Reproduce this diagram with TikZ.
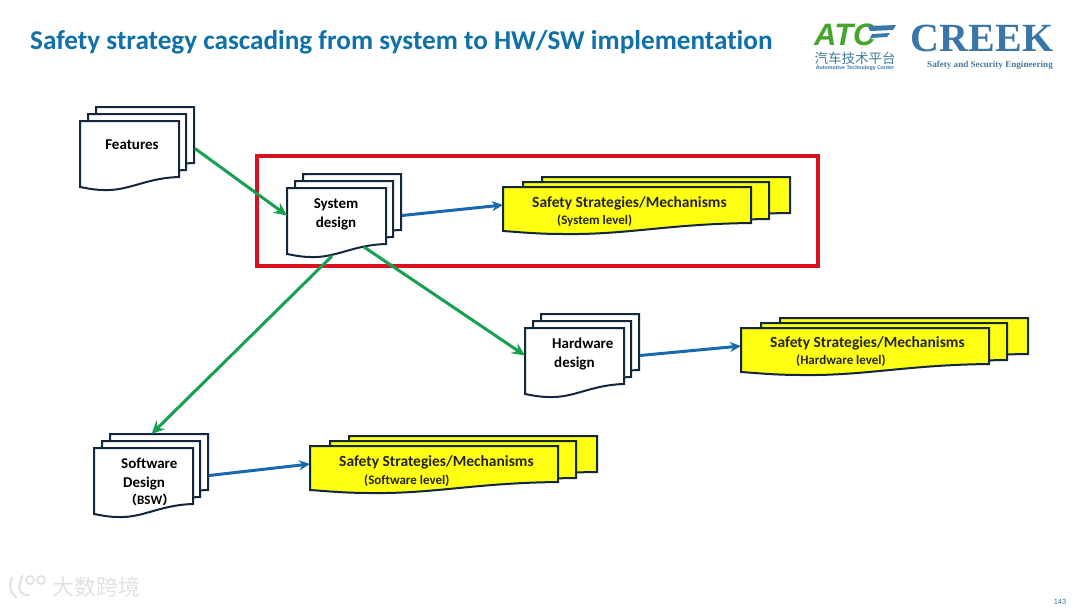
\documentclass[tikz,border=0pt]{standalone}
\usepackage{fontspec}
\setmainfont[Ligatures=NoCommon]{Carlito}
\newfontfamily\cjkfont{Noto Sans CJK SC}
\newfontfamily\serifont{Liberation Serif}
\newfontfamily\arialfont{Liberation Sans}
\usetikzlibrary{arrows.meta}
\definecolor{inkline}{HTML}{12263C}
\definecolor{titleblue}{HTML}{1070A8}
\definecolor{flowgreen}{HTML}{16A050}
\definecolor{flowblue}{HTML}{1768AC}
\definecolor{framered}{HTML}{D9121F}
\definecolor{noteyellow}{HTML}{FFFF14}
\definecolor{creekblue}{HTML}{3A76A8}
\definecolor{atcgreen}{HTML}{45A52E}
\definecolor{marklight}{HTML}{E2E2E2}
\newcommand{\fsz}[1]{\fontsize{#1}{#1}\selectfont}
\newcommand{\sheetshape}[6]{%
  \draw[sheet,fill=#6] (#1,#2) -- ({#1+#3},#2) -- ({#1+#3},{#2+#4})
    .. controls ({#1+0.66*#3},{#2+#4+1}) and ({#1+0.5*#3},{#2+#5+4}) .. ({#1+0.24*#3},{#2+#5+3})
    .. controls ({#1+0.14*#3},{#2+#5+3}) and ({#1+0.06*#3},{#2+#5+1}) .. (#1,{#2+#5}) -- cycle;}
\newcommand{\docstack}[3]{%
  \sheetshape{#2+16}{#3-14}{98}{56}{66}{white}
  \sheetshape{#2+8}{#3-7}{98}{56}{66}{white}
  \sheetshape{#2}{#3}{99}{56}{66}{white}
  \node[frame,minimum width=115pt,minimum height=83pt] (#1) at ({#2+57.5},{#3+27.5}) {};
}
\newcommand{\notestack}[3]{%
  \sheetshape{#2+39}{#3-10}{248}{36}{44}{noteyellow}
  \sheetshape{#2+20}{#3-5}{246}{37}{44}{noteyellow}
  \sheetshape{#2}{#3}{248}{36}{44}{noteyellow}
  \node[frame,minimum width=287pt,minimum height=56pt] (#1) at ({#2+143.5},{#3+18}) {};
}
\tikzset{
  sheet/.style={draw=inkline,line width=2pt,line join=miter},
  frame/.style={inner sep=0pt,outer sep=0pt,draw=none},
  doclabel/.style={font=\bfseries\fsz{15},text=black,inner sep=0pt,align=left},
  notehead/.style={font=\bfseries\fsz{15.5},text=black!85,inner sep=0pt},
  notesub/.style={font=\bfseries\fsz{13},text=black!85,inner sep=0pt},
  greenflow/.style={draw=flowgreen,line width=3pt,-{Stealth[length=13pt,width=12pt]}},
  blueflow/.style={draw=flowblue,line width=3pt,-{Stealth[length=11pt,width=10pt]}},
}
\begin{document}
\begin{tikzpicture}[x=1pt,y=-1pt]
\useasboundingbox (0,0) rectangle (1080,608);
\fill[white] (0,0) rectangle (1080,608);
% title
\node[anchor=west,inner sep=0pt,font=\bfseries\fsz{27.2},text=titleblue] (title) at (30,42) {Safety strategy cascading from system to HW/SW implementation};
% logos
\node[anchor=west,inner sep=0pt,font=\arialfont\bfseries\itshape\fsz{31},text=atcgreen] (atc) at (814,35) {ATC};
\fill[creekblue] (868,26) -- (896,25) -- (893,30) -- (870,31) -- cycle;
\fill[creekblue] (872,34) -- (890,33) -- (887,37) -- (870,38) -- cycle;
\node[anchor=center,inner sep=0pt,font=\cjkfont\fsz{13.5},text=creekblue!85!atcgreen] (atccn) at (855,58) {汽车技术平台};
\node[anchor=center,inner sep=0pt,font=\arialfont\bfseries\fsz{5.3},text=creekblue] (atcen) at (855,68.5) {Automotive Technology Center};
\node[anchor=center,inner sep=0pt,font=\serifont\bfseries\fsz{40},text=creekblue] (creek) at (982,38) {CREEK};
\node[anchor=center,inner sep=0pt,font=\serifont\bfseries\fsz{9.1},text=creekblue!80!gray] (creeksub) at (990,65) {Safety and Security Engineering};
% red frame
\node[draw=framered,line width=4pt,inner sep=0pt,minimum width=561pt,minimum height=110pt,fill=none] (focus) at (537.5,210.5) {};
% stacks
\docstack{features}{80}{121}
\docstack{system}{287}{188}
\docstack{hardware}{525}{328}
\docstack{software}{94}{448}
\notestack{noteSys}{503}{187}
\notestack{noteHw}{741}{328}
\notestack{noteSw}{310}{446}
\coordinate (sysLeftExit) at (332,256);
\coordinate (sysRightExit) at (364,247);
% connectors
\draw[greenflow] (features.east) -- (system.west);
\draw[greenflow] (sysLeftExit) -- (software.north);
\draw[greenflow] (sysRightExit) -- (hardware.west);
\draw[blueflow] (system.east) -- (noteSys.west);
\draw[blueflow] (hardware.east) -- (noteHw.west);
\draw[blueflow] (software.east) -- (noteSw.west);
% labels
\node[doclabel] (tf) at (132,145) {Features};
\node[doclabel,align=center] (ts) at (336,214) {System\\[4pt]design};
\node[doclabel,anchor=west] (th) at (552,354) {Hardware\\[4pt]\hspace*{2pt}design};
\node[doclabel,anchor=north west] (tw) at (121,458) {Software\\[3.5pt]\hspace*{2pt}Design\\[2pt]\hspace*{4pt}{\cjkfont\bfseries\fsz{12}（}{\fsz{13}BSW}{\cjkfont\bfseries\fsz{12}）}};
\node[notehead,anchor=west] (n1) at (532,203.5) {Safety Strategies/Mechanisms};
\node[notesub,anchor=west] (n1b) at (557,221) {(System level)};
\node[notehead,anchor=west] (n2) at (770,343.5) {Safety Strategies/Mechanisms};
\node[notesub,anchor=west] (n2b) at (796,361) {(Hardware level)};
\node[notehead,anchor=west] (n3) at (339,462.5) {Safety Strategies/Mechanisms};
\node[notesub,anchor=west] (n3b) at (364,481) {(Software level)};
% watermark
\draw[marklight,line width=2.2pt,line cap=round] (12,578) .. controls (9,586) and (10,594) .. (16,597);
\draw[marklight,line width=2.2pt,line cap=round] (22,576) -- (20,584) .. controls (17,590) and (22,596) .. (29,595);
\draw[marklight,line width=1.8pt] (30,580) circle[radius=4];
\draw[marklight,line width=1.8pt] (41,580) circle[radius=4];
\node[anchor=west,inner sep=0pt,font=\cjkfont\fsz{22},text=marklight] (wm) at (52,587) {大数跨境};
% page number
\node[inner sep=0pt,font=\arialfont\fsz{7.5},text=creekblue] (pg) at (1060,602) {143};
\end{tikzpicture}
\end{document}
